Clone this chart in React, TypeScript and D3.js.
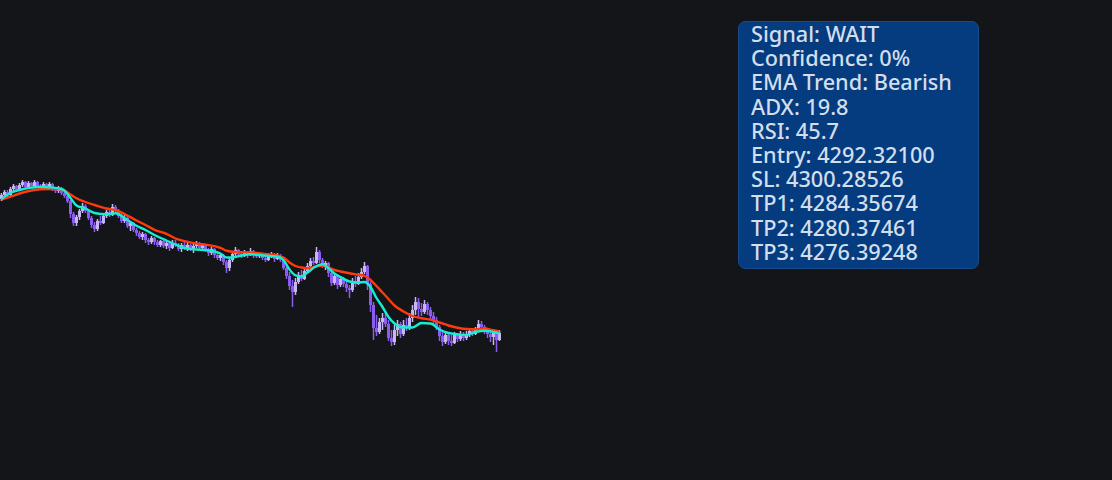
import React from "react";
import * as d3 from "d3";

// OHLC candles (price), oldest first
const opens = [
  4305.7, 4306.1, 4306.4, 4306.1, 4306.7, 4307.0, 4306.6, 4307.1, 4307.4, 4306.9,
  4307.3, 4307.0, 4307.4, 4307.0, 4306.8, 4307.2, 4306.9, 4307.2, 4306.7, 4306.5,
  4306.8, 4306.3, 4306.0, 4305.5, 4304.2, 4303.3, 4303.9, 4304.5, 4305.0, 4304.5,
  4303.8, 4303.1, 4302.7, 4303.5, 4303.3, 4304.0, 4304.4, 4304.1, 4304.9, 4304.5,
  4304.0, 4303.5, 4303.8, 4303.0, 4303.3, 4302.6, 4302.3, 4301.9, 4302.2, 4301.6,
  4301.4, 4301.8, 4301.4, 4301.1, 4301.5, 4301.0, 4301.3, 4300.8, 4301.3, 4301.1,
  4300.7, 4301.1, 4300.8, 4301.1, 4300.7, 4301.0, 4301.3, 4300.8, 4301.1, 4300.6,
  4300.3, 4300.7, 4300.1, 4299.8, 4300.1, 4299.4, 4298.8, 4299.6, 4300.2, 4300.6,
  4300.2, 4300.0, 4300.4, 4300.1, 4300.5, 4300.1, 4300.0, 4300.2, 4299.8, 4299.6,
  4300.0, 4300.2, 4299.7, 4300.0, 4299.6, 4298.8, 4298.0, 4297.0, 4296.4, 4297.4,
  4297.9, 4297.7, 4298.5, 4299.0, 4299.5, 4299.3, 4300.4, 4299.6, 4299.0, 4299.3,
  4298.3, 4297.3, 4298.0, 4297.1, 4297.7, 4297.2, 4296.8, 4296.6, 4297.5, 4297.2,
  4297.9, 4298.4, 4299.0, 4297.2, 4295.1, 4292.8, 4292.4, 4293.4, 4293.8, 4293.2,
  4291.8, 4291.4, 4292.6, 4293.2, 4292.2, 4293.1, 4292.8, 4293.8, 4294.6, 4295.4,
  4294.7, 4294.4, 4295.2, 4294.6, 4294.0, 4293.6, 4292.9, 4292.0, 4291.4, 4292.1,
  4291.5, 4291.3, 4292.1, 4291.7, 4292.2, 4291.8, 4292.2, 4292.5, 4292.2, 4292.7,
  4293.2, 4292.9, 4292.5, 4292.2, 4291.9, 4292.3, 4291.6,
];
const highs = [
  4306.3, 4306.6, 4306.6, 4306.9, 4307.2, 4307.1, 4307.3, 4307.6, 4307.5, 4307.5,
  4307.4, 4307.6, 4307.5, 4307.2, 4307.4, 4307.3, 4307.4, 4307.3, 4306.9, 4307.0,
  4306.9, 4306.5, 4306.1, 4305.6, 4304.4, 4304.1, 4304.7, 4305.3, 4305.2, 4304.7,
  4304.0, 4303.4, 4303.7, 4304.0, 4304.3, 4304.6, 4304.7, 4305.2, 4305.1, 4304.7,
  4304.2, 4304.1, 4304.0, 4303.5, 4303.4, 4302.8, 4302.5, 4302.4, 4302.3, 4301.8,
  4302.0, 4301.9, 4301.6, 4301.6, 4301.6, 4301.5, 4301.4, 4301.6, 4301.6, 4301.3,
  4301.3, 4301.4, 4301.3, 4301.2, 4301.2, 4301.5, 4301.4, 4301.3, 4301.2, 4300.8,
  4300.9, 4300.8, 4300.4, 4300.3, 4300.2, 4299.6, 4299.8, 4300.4, 4300.9, 4300.7,
  4300.4, 4300.6, 4300.5, 4300.8, 4300.6, 4300.4, 4300.4, 4300.3, 4300.1, 4300.3,
  4300.4, 4300.3, 4300.3, 4300.2, 4299.8, 4299.1, 4298.4, 4297.6, 4297.8, 4298.4,
  4298.6, 4298.9, 4299.3, 4299.8, 4299.9, 4300.9, 4300.6, 4299.8, 4299.5, 4299.4,
  4298.6, 4298.3, 4298.2, 4298.0, 4297.9, 4297.6, 4297.1, 4297.8, 4298.0, 4298.3,
  4298.8, 4299.4, 4299.1, 4297.4, 4295.4, 4294.1, 4293.8, 4294.3, 4294.4, 4293.6,
  4292.6, 4293.1, 4293.6, 4293.4, 4293.6, 4293.8, 4294.3, 4295.1, 4295.9, 4295.8,
  4295.3, 4295.6, 4295.4, 4294.9, 4294.4, 4293.9, 4293.1, 4292.6, 4292.4, 4292.3,
  4292.1, 4292.4, 4292.3, 4292.5, 4292.4, 4292.5, 4292.7, 4292.7, 4292.9, 4293.6,
  4293.5, 4293.1, 4292.8, 4292.6, 4292.5, 4292.5, 4292.6,
];
const lows = [
  4305.5, 4305.9, 4305.9, 4306.0, 4306.5, 4306.4, 4306.5, 4306.9, 4306.8, 4306.7,
  4306.8, 4306.8, 4306.8, 4306.6, 4306.7, 4306.7, 4306.7, 4306.5, 4306.3, 4306.3,
  4306.1, 4305.8, 4305.3, 4303.8, 4303.0, 4303.0, 4303.6, 4304.3, 4304.3, 4303.6,
  4302.8, 4302.4, 4302.5, 4303.1, 4303.2, 4303.8, 4303.9, 4304.0, 4304.3, 4303.8,
  4303.3, 4303.3, 4302.8, 4302.5, 4302.4, 4302.0, 4301.7, 4301.6, 4301.3, 4301.1,
  4301.2, 4301.1, 4300.9, 4300.9, 4300.8, 4300.7, 4300.5, 4300.7, 4300.9, 4300.5,
  4300.4, 4300.6, 4300.5, 4300.5, 4300.3, 4300.8, 4300.6, 4300.5, 4300.4, 4300.0,
  4300.1, 4299.8, 4299.6, 4299.5, 4299.1, 4298.3, 4298.5, 4299.4, 4300.0, 4299.9,
  4299.8, 4299.9, 4299.8, 4300.0, 4299.8, 4299.8, 4299.8, 4299.6, 4299.4, 4299.5,
  4299.8, 4299.4, 4299.6, 4299.4, 4298.6, 4297.7, 4296.6, 4294.9, 4296.1, 4297.2,
  4297.5, 4297.6, 4298.4, 4298.8, 4299.1, 4299.2, 4299.3, 4298.8, 4298.6, 4297.9,
  4297.0, 4297.1, 4296.7, 4296.9, 4296.9, 4296.4, 4295.8, 4296.4, 4296.9, 4297.1,
  4297.7, 4298.2, 4296.6, 4294.4, 4291.6, 4292.0, 4292.2, 4292.6, 4292.9, 4291.5,
  4291.0, 4291.1, 4292.0, 4291.8, 4292.0, 4292.5, 4292.6, 4293.4, 4294.1, 4293.8,
  4294.0, 4294.2, 4294.1, 4293.6, 4293.1, 4292.6, 4291.5, 4291.0, 4291.2, 4291.1,
  4291.0, 4291.2, 4291.4, 4291.5, 4291.5, 4291.6, 4291.9, 4292.0, 4292.1, 4292.6,
  4292.6, 4292.2, 4291.8, 4291.4, 4291.1, 4290.4, 4291.5,
];
const closes = [
  4306.1, 4306.4, 4306.1, 4306.7, 4307.0, 4306.6, 4307.1, 4307.4, 4306.9, 4307.3,
  4307.0, 4307.4, 4307.0, 4306.8, 4307.2, 4306.9, 4307.2, 4306.7, 4306.5, 4306.8,
  4306.3, 4306.0, 4305.5, 4304.2, 4303.3, 4303.9, 4304.5, 4305.0, 4304.5, 4303.8,
  4303.1, 4302.7, 4303.5, 4303.3, 4304.0, 4304.4, 4304.1, 4304.9, 4304.5, 4304.0,
  4303.5, 4303.8, 4303.0, 4303.3, 4302.6, 4302.3, 4301.9, 4302.2, 4301.6, 4301.4,
  4301.8, 4301.4, 4301.1, 4301.5, 4301.0, 4301.3, 4300.8, 4301.3, 4301.1, 4300.7,
  4301.1, 4300.8, 4301.1, 4300.7, 4301.0, 4301.3, 4300.8, 4301.1, 4300.6, 4300.3,
  4300.7, 4300.1, 4299.8, 4300.1, 4299.4, 4298.8, 4299.6, 4300.2, 4300.6, 4300.2,
  4300.0, 4300.4, 4300.1, 4300.5, 4300.1, 4300.0, 4300.2, 4299.8, 4299.6, 4300.0,
  4300.2, 4299.7, 4300.0, 4299.6, 4298.8, 4298.0, 4297.0, 4296.4, 4297.4, 4297.9,
  4297.7, 4298.5, 4299.0, 4299.5, 4299.3, 4300.4, 4299.6, 4299.0, 4299.3, 4298.3,
  4297.3, 4298.0, 4297.1, 4297.7, 4297.2, 4296.8, 4296.6, 4297.5, 4297.2, 4297.9,
  4298.4, 4299.0, 4297.2, 4295.1, 4292.8, 4292.4, 4293.4, 4293.8, 4293.2, 4291.8,
  4291.4, 4292.6, 4293.2, 4292.2, 4293.1, 4292.8, 4293.8, 4294.6, 4295.4, 4294.7,
  4294.4, 4295.2, 4294.6, 4294.0, 4293.6, 4292.9, 4292.0, 4291.4, 4292.1, 4291.5,
  4291.3, 4292.1, 4291.7, 4292.2, 4291.8, 4292.2, 4292.5, 4292.2, 4292.7, 4293.2,
  4292.9, 4292.5, 4292.2, 4291.9, 4292.3, 4291.6, 4292.32,
];

// EMA readings at selected bar indices
const emaBars = [
  0, 3, 6, 10, 13, 16, 20, 21, 23, 25, 28, 31, 35, 38, 41, 45, 48, 51, 55, 58,
  61, 65, 68, 71, 73, 75, 77, 80, 83, 86, 89, 92, 94, 96, 98, 100, 102, 105, 107, 109,
  111, 113, 116, 119, 121, 123, 125, 127, 129, 131, 134, 137, 140, 143, 146, 149, 152, 155, 158, 161,
  164, 166,
];
const emaFast = [
  4305.70, 4306.30, 4306.60, 4306.84, 4306.93, 4306.88, 4306.70, 4306.52, 4305.80, 4305.05,
  4304.75, 4304.30, 4304.17, 4304.27, 4303.80, 4303.02, 4302.60, 4302.10, 4301.55, 4301.15,
  4300.80, 4300.65, 4300.60, 4300.45, 4300.25, 4299.85, 4299.85, 4300.05, 4300.17, 4300.10,
  4300.00, 4299.95, 4299.60, 4298.65, 4298.07, 4297.97, 4298.35, 4299.00, 4299.18, 4298.77,
  4298.25, 4297.90, 4297.45, 4297.35, 4297.40, 4296.90, 4295.80, 4294.90, 4293.90, 4293.25,
  4292.85, 4292.85, 4293.30, 4293.25, 4292.65, 4292.30, 4292.17, 4292.10, 4292.40, 4292.53,
  4292.40, 4292.27,
];
const emaSlow = [
  4305.65, 4305.93, 4306.25, 4306.55, 4306.67, 4306.70, 4306.68, 4306.55, 4306.15, 4305.77,
  4305.40, 4305.10, 4304.75, 4304.60, 4304.20, 4303.55, 4303.10, 4302.62, 4302.22, 4301.75,
  4301.48, 4301.24, 4301.13, 4300.98, 4300.81, 4300.53, 4300.42, 4300.37, 4300.35, 4300.27,
  4300.15, 4300.05, 4299.85, 4299.35, 4299.00, 4298.85, 4298.78, 4298.95, 4299.05, 4298.85,
  4298.60, 4298.45, 4298.27, 4298.12, 4298.02, 4297.60, 4297.00, 4296.35, 4295.70, 4295.05,
  4294.45, 4294.00, 4293.78, 4293.63, 4293.35, 4293.05, 4292.83, 4292.70, 4292.68, 4292.75,
  4292.57, 4292.45,
];

const infoLines = [
  "Signal: WAIT",
  "Confidence: 0%",
  "EMA Trend: Bearish",
  "ADX: 19.8",
  "RSI: 45.7",
  "Entry: 4292.32100",
  "SL: 4300.28526",
  "TP1: 4284.35674",
  "TP2: 4280.37461",
  "TP3: 4276.39248",
];

const WIDTH = 1112;
const HEIGHT = 480;
const BG = "#141518";
const UP = "#c6b6f2";
const DOWN = "#8a5cf0";

export default function App() {
  const n = closes.length;
  const x = d3.scaleLinear().domain([0, n - 1]).range([1.5, 1.5 + 3 * (n - 1)]);
  const y = d3.scaleLinear().domain([4290.6, 4307.6]).range([350, 180]);

  const line = d3
    .line<number>()
    .x((_, i) => x(emaBars[i]))
    .y((d) => y(d))
    .curve(d3.curveMonotoneX);

  return (
    <div style={{ position: "fixed", left: 0, top: 0, width: WIDTH, height: HEIGHT, background: BG }}>
      <svg width={WIDTH} height={HEIGHT} style={{ display: "block" }}>
        <rect width={WIDTH} height={HEIGHT} fill={BG} />
        <g>
          {closes.map((c, i) => {
            const o = opens[i];
            const color = c >= o ? UP : DOWN;
            const cx = x(i);
            const top = y(Math.max(o, c));
            const bot = y(Math.min(o, c));
            return (
              <g key={i}>
                <rect x={cx - 0.75} y={y(highs[i])} width={1.5} height={y(lows[i]) - y(highs[i])} fill={color} />
                <rect x={cx - 1.5} y={top} width={3} height={Math.max(1.5, bot - top)} fill={color} />
              </g>
            );
          })}
        </g>
        <path d={line(emaSlow) ?? ""} fill="none" stroke="#ff3a0c" strokeWidth={2.4} />
        <path d={line(emaFast) ?? ""} fill="none" stroke="#16efcf" strokeWidth={2.4} />

        <rect x={738.5} y={21.5} width={240} height={247} rx={7} fill="#053c80" stroke="#1a4c8c" />
        {infoLines.map((t, i) => (
          <text
            key={t}
            x={751}
            y={42 + i * 24.2}
            fill="#d3deec"
            style={{ font: "500 21.7px 'Noto Sans', sans-serif" }}
          >
            {t}
          </text>
        ))}
      </svg>
    </div>
  );
}
